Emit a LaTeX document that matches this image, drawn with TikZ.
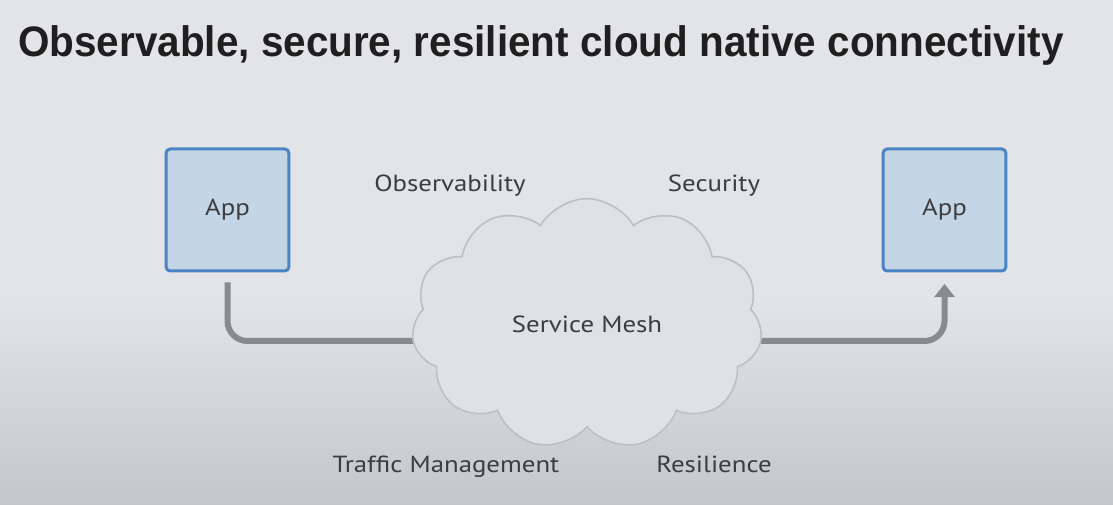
\documentclass[tikz,border=0pt]{standalone}
\usepackage{fontspec}
\setmainfont{PT Sans}
\newfontfamily\titlefont{Liberation Sans}
\usetikzlibrary{shapes.symbols,arrows.meta,calc}
\pgfdeclarelayer{canvas}
\pgfdeclarelayer{back}
\pgfsetlayers{canvas,back,main}
\definecolor{slidetop}{HTML}{E3E4E8}
\definecolor{slidebot}{HTML}{C5C6C9}
\definecolor{appfill}{HTML}{C4D5E6}
\definecolor{appline}{HTML}{4A84C4}
\definecolor{meshfill}{HTML}{DFE1E4}
\definecolor{meshline}{HTML}{BDBFC2}
\definecolor{pipe}{HTML}{898A8D}
\definecolor{labeltext}{HTML}{3C3D40}
\newcommand{\widetext}[1]{\scalebox{1.15}[1]{#1}}
\tikzset{
  appbox/.style={draw=appline, line width=2.25pt, fill=appfill, rounded corners=3pt,
    minimum width=92pt, minimum height=91.5pt, inner sep=0pt,
    font=\fontsize{17.5}{21}\selectfont, text=labeltext},
  tag/.style={font=\fontsize{17.5}{21}\selectfont, text=labeltext, inner sep=0pt, anchor=base},
  pipeline/.style={draw=pipe, line width=4.5pt, rounded corners=15pt},
}
\begin{document}
\begin{tikzpicture}[x=0.75pt, y=-0.75pt]
\useasboundingbox (0,0) rectangle (1113,505);
\begin{pgfonlayer}{canvas}
  \fill[slidetop] (0,0) rectangle (1113,300);
  \shade[top color=slidetop, bottom color=slidebot] (0,299.5) rectangle (1113,505);
\end{pgfonlayer}
% title
\node[anchor=base west, inner sep=0pt, text=black!88] (title) at (18,57)
  {\titlefont\bfseries\fontsize{32}{38}\selectfont\scalebox{0.948}[1]{Observable, secure, resilient cloud native connectivity}};
% apps
\node[appbox] (appL) at (227.5,210) {\widetext{App}};
\node[appbox] (appR) at (944.5,210) {\widetext{App}};
% mesh
\node[cloud, cloud puffs=11, cloud puff arc=120, aspect=1.5, draw=meshline, line width=1.2pt,
  fill=meshfill, minimum width=263pt, minimum height=188pt, tag, anchor=center] (mesh) at (587,324) {\widetext{Service Mesh}};
% labels
\node[tag] (obs) at (450,192) {\widetext{Observability}};
\node[tag] (sec) at (714,192) {\widetext{Security}};
\node[tag] (traffic) at (446,472) {\widetext{Traffic Management}};
\node[tag] (resil) at (714,472) {\widetext{Resilience}};
% connectors
\begin{pgfonlayer}{back}
  \draw[pipeline] ([yshift=-7.5pt]appL.south) |- ($(mesh.center)+(0,17)$);
  \draw[pipeline, -{Triangle[width=15pt,length=10pt]}] ($(mesh.center)+(0,17)$) -| ([yshift=-8.5pt]appR.south);
\end{pgfonlayer}
\end{tikzpicture}
\end{document}
